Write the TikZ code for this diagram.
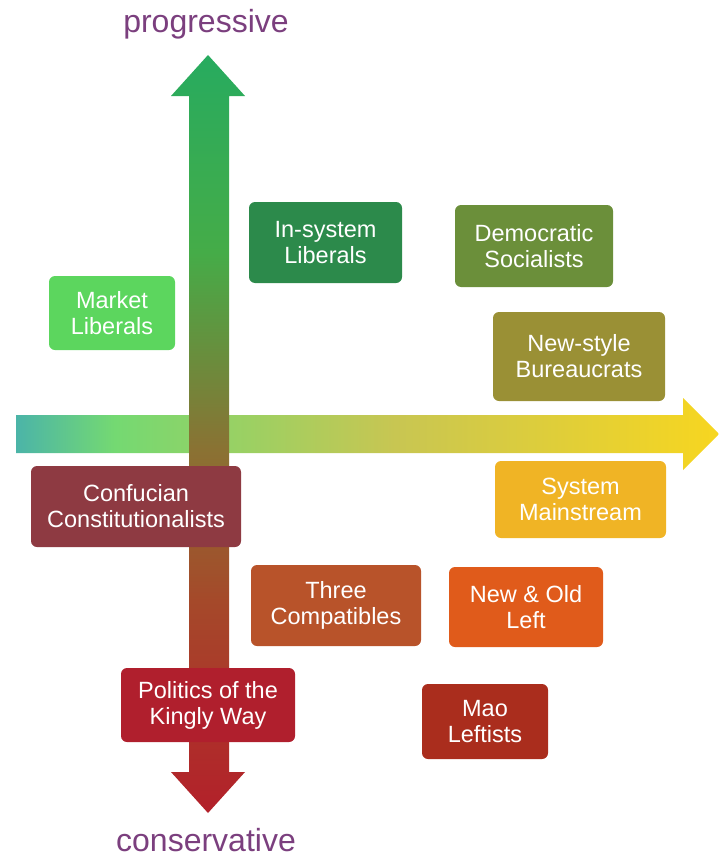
\documentclass[tikz,border=0pt]{standalone}
\usepackage{fontspec}
\setmainfont{Liberation Sans}
\usetikzlibrary{shapes}
\usetikzlibrary{arrows}

\definecolor{labelpurple}{HTML}{7B3F7E}
\definecolor{mktgreen}{HTML}{5CD65E}
\definecolor{insysgreen}{HTML}{2C8A4B}
\definecolor{demolive}{HTML}{6B8F3A}
\definecolor{buroolive}{HTML}{9A9035}
\definecolor{sysyellow}{HTML}{F0B425}
\definecolor{leftorange}{HTML}{E05B1B}
\definecolor{maored}{HTML}{AA2D1D}
\definecolor{threerust}{HTML}{B8532A}
\definecolor{confmaroon}{HTML}{8E3A42}
\definecolor{kingred}{HTML}{B01F2D}

\definecolor{hteal}{HTML}{4BB4A8}
\definecolor{hgreen}{HTML}{74D972}
\definecolor{hlime}{HTML}{C8C652}
\definecolor{hyellow}{HTML}{F7D620}
\definecolor{vtop}{HTML}{27AB5F}
\definecolor{vgreen}{HTML}{45AC48}
\definecolor{vbrown}{HTML}{8A7233}
\definecolor{vrust}{HTML}{A5492A}
\definecolor{vred}{HTML}{B3202A}

\pgfdeclarehorizontalshading{haxis}{100bp}{color(0bp)=(hteal); color(25bp)=(hteal); color(32bp)=(hgreen); color(52bp)=(hlime); color(75bp)=(hyellow); color(100bp)=(hyellow)}
\pgfdeclareverticalshading{vaxis}{100bp}{color(0bp)=(vred); color(25bp)=(vred); color(39bp)=(vrust); color(49bp)=(vbrown); color(62bp)=(vgreen); color(75bp)=(vtop); color(100bp)=(vtop)}

\tikzset{
  box/.style={rounded corners=6pt, text=white, align=center, inner sep=0pt,
    font=\fontsize{23.5}{26}\selectfont},
  axislabel/.style={text=labelpurple, anchor=base, font=\fontsize{32}{36}\selectfont}
}

\begin{document}
\begin{tikzpicture}[x=1pt,y=-1pt]
\useasboundingbox (0,0) rectangle (719,859);
% axes
\shade[shading=haxis] (16,415) -- (683,415) -- (683,398) -- (719,434) -- (683,470) -- (683,453) -- (16,453) -- cycle;
\shade[shading=vaxis] (189,96) -- (171,96) -- (208,55) -- (245,96) -- (229,96) -- (229,772) -- (245,772) -- (208,813) -- (171,772) -- (189,772) -- cycle;
\draw (206,33) node[axislabel] (prog) {progressive};
\draw (206,851) node[axislabel] (cons) {conservative};
% groups
\draw (112,313) node[box, fill=mktgreen, minimum width=126pt, minimum height=74pt] (market) {Market\\Liberals};
\draw (325.5,242.5) node[box, fill=insysgreen, minimum width=153pt, minimum height=81pt] (insystem) {In-system\\Liberals};
\draw (534,246) node[box, fill=demolive, minimum width=158pt, minimum height=82pt] (demsoc) {Democratic\\Socialists};
\draw (579,356.5) node[box, fill=buroolive, minimum width=172pt, minimum height=89pt] (newstyle) {New-style\\Bureaucrats};
\draw (580.5,499.5) node[box, fill=sysyellow, minimum width=171pt, minimum height=77pt] (sysmain) {System\\Mainstream};
\draw (136,506.5) node[box, fill=confmaroon, minimum width=210pt, minimum height=81pt] (confucian) {Confucian\\Constitutionalists};
\draw (336,605.5) node[box, fill=threerust, minimum width=170pt, minimum height=81pt] (threecomp) {Three\\Compatibles};
\draw (526,607) node[box, fill=leftorange, minimum width=154pt, minimum height=80pt] (newold) {New \& Old\\Left};
\draw (208,705) node[box, fill=kingred, minimum width=174pt, minimum height=74pt] (kingly) {Politics of the\\Kingly Way};
\draw (485,721.5) node[box, fill=maored, minimum width=126pt, minimum height=75pt] (mao) {Mao\\Leftists};
\end{tikzpicture}
\end{document}
